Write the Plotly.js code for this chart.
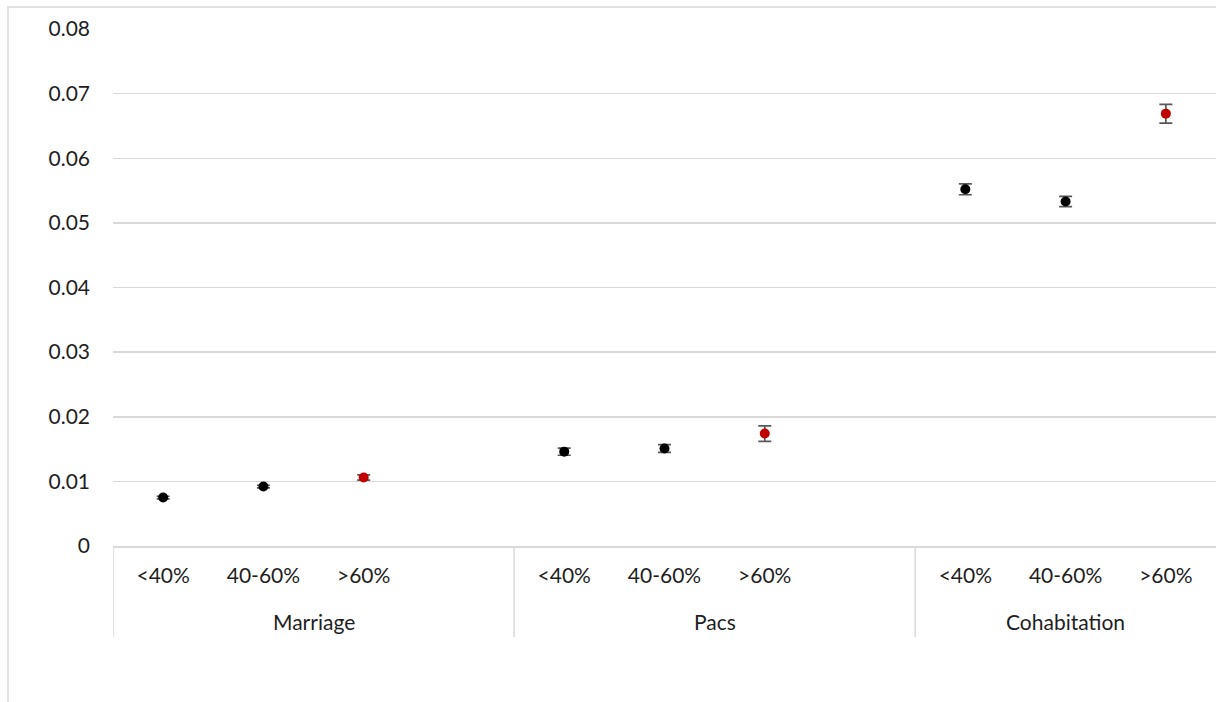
<!DOCTYPE html>
<html>
<head>
<meta charset="utf-8">
<script src="https://cdn.plot.ly/plotly-3.0.1.min.js"></script>
<style>
  html, body { margin: 0; padding: 0; background: #ffffff; overflow: hidden; }
  #chart { width: 1216px; height: 702px; }
</style>
</head>
<body>
<div id="chart"></div>
<script>
// Union type groups and share levels
const groups = ["Marriage", "Pacs", "Cohabitation"];
const levels = ["<40%", "40-60%", ">60%"];

// Estimated rate per group (rows) and level (columns)
const marriageValues = [0.0075, 0.0092, 0.0106];
const pacsValues = [0.0146, 0.0151, 0.0174];
const cohabitationValues = [0.0552, 0.0533, 0.0669];

// Half-width of the confidence interval for each estimate
const marriageErrors = [0.0002, 0.0002, 0.0004];
const pacsErrors = [0.00056, 0.0006, 0.0012];
const cohabitationErrors = [0.00085, 0.0008, 0.00145];

const yTicks = [0, 0.01, 0.02, 0.03, 0.04, 0.05, 0.06, 0.07, 0.08];
const yTickText = ["0", "0.01", "0.02", "0.03", "0.04", "0.05", "0.06", "0.07", "0.08"];

const seriesValues = [marriageValues, pacsValues, cohabitationValues];
const seriesErrors = [marriageErrors, pacsErrors, cohabitationErrors];

// Each group takes four category slots: three levels then a blank spacer
const slotsPerGroup = levels.length + 1;
const axisStart = -0.5;
const axisEnd = groups.length * slotsPerGroup - 1.5;

const xs = [], ys = [], errs = [], colors = [], tickVals = [], tickText = [];
groups.forEach((g, gi) => {
  levels.forEach((lv, li) => {
    const pos = gi * slotsPerGroup + li;
    xs.push(pos);
    ys.push(seriesValues[gi][li]);
    errs.push(seriesErrors[gi][li]);
    colors.push(li === levels.length - 1 ? "#C00000" : "#000000");
    tickVals.push(pos);
    tickText.push(lv);
  });
});

const gridColor = "#d9d9d9";
const textColor = "#1e1e1e";
const fontFamily = "Lato, 'Open Sans', sans-serif";
const labelSize = 21;

const trace = {
  type: "scatter",
  mode: "markers",
  x: xs,
  y: ys,
  marker: { color: colors, size: 10, line: { width: 0 } },
  error_y: {
    type: "data",
    array: errs,
    visible: true,
    color: "#595959",
    thickness: 1.7,
    width: 6.5
  },
  hoverinfo: "x+y",
  showlegend: false
};

const plotTop = 29, plotBottom = 546, plotLeft = 113;
const plotHeight = plotBottom - plotTop;
const plotWidth = 1216 - plotLeft;
const pxToPaperY = px => (plotBottom - px) / plotHeight;
const pxToPaperX = px => (px - plotLeft) / plotWidth;

const shapes = [];
const annotations = [];

// Outer chart frame
shapes.push({
  type: "rect", xref: "paper", yref: "paper", layer: "below",
  x0: pxToPaperX(8), x1: pxToPaperX(1240),
  y0: pxToPaperY(730), y1: pxToPaperY(7),
  line: { color: gridColor, width: 1.5 }, fillcolor: "rgba(0,0,0,0)"
});

// Group dividers below the axis, and group labels centred on each span
groups.forEach((g, gi) => {
  const start = gi * slotsPerGroup - 0.5;
  const end = gi === groups.length - 1 ? axisEnd : start + slotsPerGroup;
  shapes.push({
    type: "line", xref: "x", yref: "paper",
    x0: start, x1: start, y0: 0, y1: pxToPaperY(637),
    line: { color: gridColor, width: 1.5 }
  });
  annotations.push({
    text: g, xref: "x", yref: "paper",
    x: (start + end) / 2, y: pxToPaperY(621),
    xanchor: "center", yanchor: "middle", showarrow: false,
    font: { family: fontFamily, size: labelSize, color: textColor }
  });
});

const layout = {
  width: 1216,
  height: 702,
  margin: { l: plotLeft, r: 0, t: plotTop, b: 702 - plotBottom, pad: 0 },
  paper_bgcolor: "#ffffff",
  plot_bgcolor: "#ffffff",
  font: { family: fontFamily, size: labelSize, color: textColor },
  xaxis: {
    range: [axisStart, axisEnd],
    tickmode: "array",
    tickvals: tickVals,
    ticktext: tickText,
    showgrid: false,
    zeroline: false,
    showline: true,
    linecolor: gridColor,
    linewidth: 1.5,
    ticks: "",
    ticklabelstandoff: 10,
    tickfont: { family: fontFamily, size: labelSize, color: textColor },
    fixedrange: true
  },
  yaxis: {
    range: [0, 0.08],
    tickmode: "array",
    tickvals: yTicks,
    ticktext: yTickText,
    showgrid: true,
    gridcolor: gridColor,
    gridwidth: 1.5,
    zeroline: false,
    showline: false,
    ticks: "",
    ticklabelstandoff: 22,
    tickfont: { family: fontFamily, size: labelSize, color: textColor },
    fixedrange: true
  },
  shapes: shapes,
  annotations: annotations,
  showlegend: false
};

Plotly.newPlot("chart", [trace], layout, { displayModeBar: false, staticPlot: true });
</script>
</body>
</html>
